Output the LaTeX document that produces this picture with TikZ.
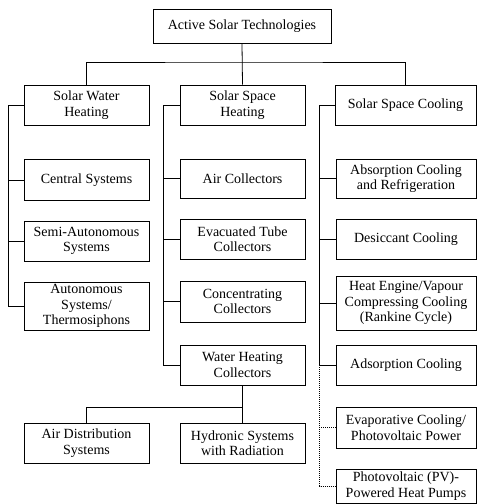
\documentclass[tikz,border=0pt]{standalone}
\usepackage{fontspec}
\setmainfont{Liberation Serif}
\usetikzlibrary{positioning,calc}

\tikzset{
  techbox/.style={draw,rectangle,align=center,inner sep=1pt,
    font=\fontsize{14}{15.5}\selectfont},
  narrowbox/.style={techbox,minimum width=125pt},
  widebox/.style={techbox,minimum width=141pt},
  link/.style={line width=0.8pt},
  maybelink/.style={link,dash pattern=on 1pt off 1pt}
}

\begin{document}
\begin{tikzpicture}[x=1pt,y=-1pt,line width=0.8pt]
\useasboundingbox (0,0) rectangle (477,504);

% top level
\node[techbox,minimum width=178pt,minimum height=34pt] (Root) at (242,26) {Active Solar Technologies};

% second level
\node[narrowbox,minimum height=40pt] (SWH) at (86.5,105) {Solar Water\\Heating};
\node[narrowbox,minimum height=40pt] (SSH) at (242.5,105) {Solar Space\\Heating};
\node[widebox,minimum height=40pt] (SSC) at (405.5,105) {Solar Space Cooling};

% solar water heating
\node[narrowbox,minimum height=41pt] (Central) at (86.5,180) {Central Systems};
\node[narrowbox,minimum height=40pt] (SemiAuto) at (86.5,241) {Semi-Autonomous\\Systems};
\node[narrowbox,minimum height=48pt] (Auto) at (86.5,306) {Autonomous\\Systems/\\Thermosiphons};

% solar space heating
\node[narrowbox,minimum height=39pt] (AirColl) at (242.5,178.5) {Air Collectors};
\node[narrowbox,minimum height=40pt] (Evac) at (242.5,239) {Evacuated Tube\\Collectors};
\node[narrowbox,minimum height=41pt] (Conc) at (242.5,301.5) {Concentrating\\Collectors};
\node[narrowbox,minimum height=40pt] (WaterColl) at (242.5,365) {Water Heating\\Collectors};
\node[narrowbox,minimum height=40pt] (AirDist) at (86.5,443) {Air Distribution\\Systems};
\node[narrowbox,minimum height=40pt] (Hydronic) at (242.5,443) {Hydronic Systems\\with Radiation};

% solar space cooling
\node[widebox,minimum height=39pt,minimum width=140pt] (Absorp) at (406,178.5) {Absorption Cooling\\and Refrigeration};
\node[widebox,minimum height=40pt,minimum width=140pt] (Desic) at (406,239) {Desiccant Cooling};
\node[widebox,minimum height=54pt,minimum width=140pt] (HeatEng) at (406,303) {Heat Engine/Vapour\\Compressing Cooling\\(Rankine Cycle)};
\node[widebox,minimum height=40pt,minimum width=140pt] (Adsorp) at (406,365) {Adsorption Cooling};
\node[widebox,minimum height=41pt,minimum width=140pt] (Evap) at (406,427.5) {Evaporative Cooling/\\Photovoltaic Power};
\node[widebox,minimum height=34pt,minimum width=140pt] (PVpump) at (406,486) {Photovoltaic (PV)-\\Powered Heat Pumps};

% top bus
\coordinate (bus) at (242,62);
\draw[link] (Root.south) -- (SSH.north);
\draw[link] (SWH.north) |- (bus) -| (SSC.north);

% left spines
\draw[link] (SWH.west) -- ++(-15,0) coordinate (swhspine) |- (Auto.west);
\foreach \n in {Central,SemiAuto}
  \draw[link] (\n.west) -- (\n.west -| swhspine);

\draw[link] (SSH.west) -- ++(-16,0) coordinate (sshspine) |- (WaterColl.west);
\foreach \n in {AirColl,Evac,Conc}
  \draw[link] (\n.west) -- (\n.west -| sshspine);

\draw[link] (SSC.west) -- ++(-15,0) coordinate (sscspine) |- (Adsorp.west);
\foreach \n in {Absorp,Desic,HeatEng}
  \draw[link] (\n.west) -- (\n.west -| sscspine);
\draw[maybelink] (Adsorp.west -| sscspine) |- (PVpump.west);
\draw[maybelink] (Evap.west) -- (Evap.west -| sscspine);

% distribution below water heating collectors
\coordinate (lowbus) at (242.5,407);
\draw[link] (WaterColl.south) -- (Hydronic.north);
\draw[link] (AirDist.north) |- (lowbus);
\end{tikzpicture}
\end{document}
